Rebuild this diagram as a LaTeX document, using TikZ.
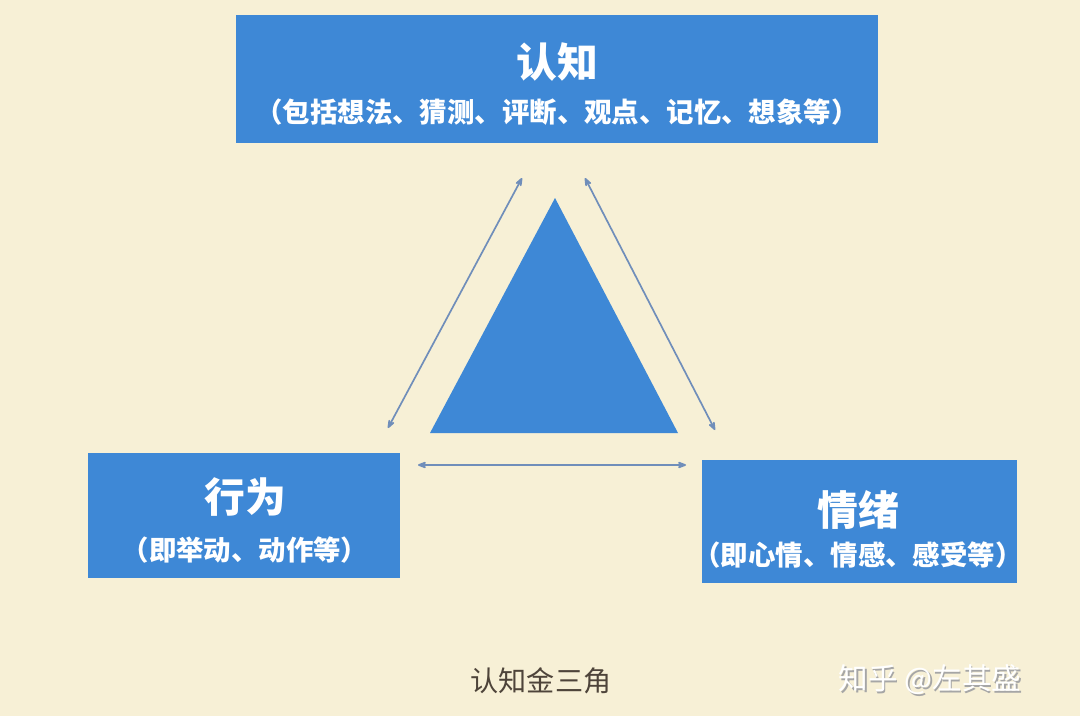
\documentclass[tikz,border=0pt]{standalone}
\usepackage{fontspec}
\newfontfamily\cjk{Noto Sans CJK SC}
\usetikzlibrary{arrows.meta,positioning}

\definecolor{paper}{RGB}{247,240,214}
\definecolor{boxblue}{RGB}{62,136,214}
\definecolor{arrowgray}{RGB}{112,142,186}
\definecolor{capgray}{RGB}{78,68,58}

\begin{document}
\begin{tikzpicture}[%
	x=0.025cm,y=-0.025cm,>={Stealth[round,length=8pt,width=6pt]},
	box/.style={fill=boxblue,inner sep=0pt},
	title/.style={text=white,font=\cjk\bfseries\fontsize{29}{32}\selectfont},
	subtitle/.style={text=white,font=\cjk\bfseries\fontsize{19.5}{22}\selectfont},
	link/.style={<->,draw=arrowgray,line width=1.2pt}]

	\fill[paper] (0,0) rectangle (1080,716);

	% the three boxes
	\node[box,minimum width=16.05cm,minimum height=3.2cm]	(COG)	at (557,79)		{};
	\node[box,minimum width=7.8cm,minimum height=3.125cm]	(BEH)	at (244,515.5)	{};
	\node[box,minimum width=7.875cm,minimum height=3.075cm]	(EMO)	at (859.5,521.5){};

	\node[title]	(COGT)	at (557,62)	{认知};
	\node[subtitle]	(COGS)	at (557,112)	{（包括想法、猜测、评断、观点、记忆、想象等）};
	\node[title]	(BEHT)	at (245,497)	{行为};
	\node[subtitle]	(BEHS)	at (245,550)	{（即举动、动作等）};
	\node[title]	(EMOT)	at (858,510)	{情绪};
	\node[subtitle]	(EMOS)	at (858,555)	{（即心情、情感、感受等）};

	% the triangle
	\coordinate (TA) at (555,198);
	\coordinate (TL) at (430,433);
	\coordinate (TR) at (678,433);
	\fill[boxblue] (TA) -- (TL) -- (TR) -- cycle;

	% arrow ends
	\coordinate (L1) at (522,178);
	\coordinate (L2) at (388,428);
	\coordinate (R1) at (585,178);
	\coordinate (R2) at (715,430);
	\coordinate (B1) at (418,465);
	\coordinate (B2) at (686,465);

	\draw[link] (L1) -- (L2);
	\draw[link] (R1) -- (R2);
	\draw[link] (B1) -- (B2);

	\node[text=capgray,font=\cjk\fontsize{20}{24}\selectfont] (CAP) at (541,681) {认知金三角};
	\node[text=gray!70,font=\cjk\fontsize{21}{24}\selectfont] (WMS) at (931.5,681.5) {知乎 @左其盛};
	\node[text=white,font=\cjk\fontsize{21}{24}\selectfont] (WM) at (930,680) {知乎 @左其盛};

\end{tikzpicture}
\end{document}
